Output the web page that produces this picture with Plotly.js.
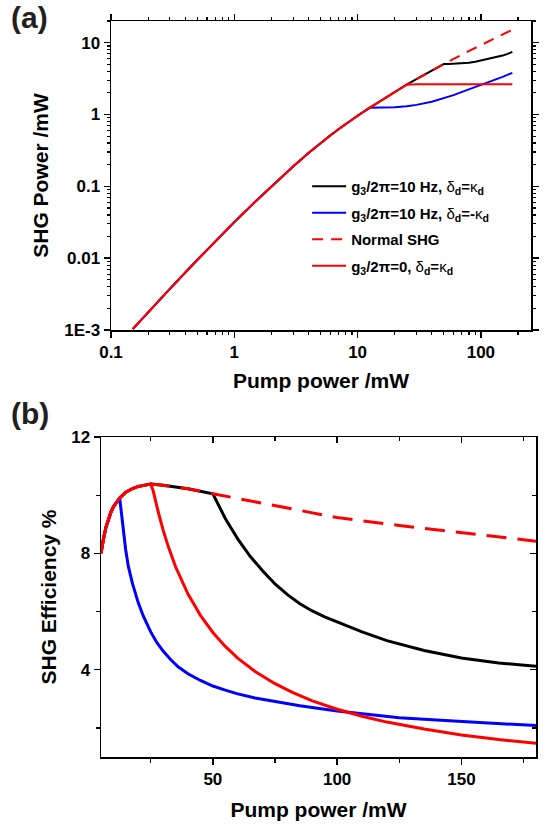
<!DOCTYPE html>
<html><head><meta charset="utf-8">
<script src="https://cdn.plot.ly/plotly-3.0.1.min.js"></script>
<style>html,body{margin:0;padding:0;background:#fff}</style>
</head><body><div id="chart" style="width:546px;height:827px"></div>
<script>
// ---------- Panel (a): SHG power (mW) vs pump power (mW), log-log ----------
const aCommonX = [0.15, 0.2, 0.3, 0.5, 0.7, 1, 1.5, 2, 3, 4, 5, 6, 7, 8, 9, 10, 12.5];
const aCommonY = [0.00103, 0.00177, 0.00374, 0.00942, 0.0171, 0.0317, 0.0626, 0.100, 0.189, 0.291, 0.40, 0.51, 0.623, 0.736, 0.848, 0.96, 1.2375];
const aMidX = [15, 20, 25];
const aMidY = [1.515, 2.06, 2.6];
const aUpperX = [30, 40, 50];
const aUpperY = [3.1, 4.09, 5.03];
const aBlackX = [55, 60, 70, 80, 90, 100, 110, 120, 135, 150, 165, 180];
const aBlackY = [5.06, 5.1, 5.18, 5.26, 5.42, 5.64, 5.83, 6.0, 6.29, 6.6, 6.98, 7.42];
const aBlueX = [14, 16, 20, 25, 30, 40, 50, 60, 75, 100, 125, 150, 180];
const aBlueY = [1.24, 1.245, 1.26, 1.3, 1.36, 1.5, 1.68, 1.86, 2.15, 2.56, 2.95, 3.34, 3.8];
const aRedX = [30, 50, 75, 100, 150, 180];
const aRedY = [2.64, 2.64, 2.64, 2.64, 2.64, 2.64];
const aNormalX = [75, 100, 125, 150, 180];
const aNormalY = [7.24, 9.25, 11.2, 13.05, 15.1];

const aXTickVals = [0.1, 1, 10, 100];
const aXTickText = ['0.1', '1', '10', '100'];
const aYTickVals = [0.001, 0.01, 0.1, 1, 10];
const aYTickText = ['1E-3', '0.01', '0.1', '1', '10'];

// ---------- Panel (b): SHG efficiency (%) vs pump power (mW) ----------
const bCommonX = [5, 5.5, 6, 7, 8, 9, 10, 12.5];
const bCommonY = [8.0, 8.28, 8.5, 8.9, 9.2, 9.42, 9.6, 9.9];
const bMidX = [15, 17.5, 20, 25];
const bMidY = [10.1, 10.22, 10.3, 10.38];
const bUpperX = [30, 40, 50];
const bUpperY = [10.34, 10.22, 10.05];
const bBlackX = [52, 55, 58, 60, 65, 70, 75, 80, 85, 90, 95, 100, 110, 120, 135, 150, 165, 180];
const bBlackY = [9.69, 9.2, 8.78, 8.5, 7.9, 7.4, 6.95, 6.58, 6.27, 6.02, 5.82, 5.64, 5.3, 5.0, 4.66, 4.4, 4.23, 4.12];
const bBlueX = [13, 13.5, 14, 14.9, 16, 17.7, 20, 22, 25, 27.5, 30, 33, 36, 40, 45, 50, 55, 60, 67, 75, 85, 100, 115, 125, 140, 150, 165, 180];
const bBlueY = [9.55, 9.15, 8.8, 8.14, 7.55, 6.95, 6.3, 5.85, 5.3, 4.93, 4.64, 4.35, 4.1, 3.86, 3.63, 3.44, 3.3, 3.17, 3.03, 2.9, 2.76, 2.58, 2.43, 2.35, 2.27, 2.22, 2.15, 2.08];
const bRedX = [26, 27, 28, 30, 32, 35, 38, 40, 45, 50, 55, 60, 67, 75, 82, 90, 100, 110, 120, 135, 150, 165, 180];
const bRedY = [10.15, 9.78, 9.43, 8.8, 8.25, 7.54, 6.95, 6.6, 5.87, 5.28, 4.8, 4.4, 3.94, 3.52, 3.22, 2.93, 2.64, 2.4, 2.2, 1.96, 1.76, 1.6, 1.47];
const bNormalX = [75, 100, 125, 150, 180];
const bNormalY = [9.63, 9.23, 8.96, 8.72, 8.42];

const bXTickVals = [50, 100, 150];
const bXMinorVals = [25, 75, 125, 175];
const bYTickVals = [4, 8, 12];
const bYMinorVals = [2, 6, 10];

const names = [
  "g<sub>3</sub>/2π=10 Hz, <span style='font-weight:normal'>δ</span><sub>d</sub>=<span style='font-weight:normal'>κ</span><sub>d</sub>",
  "g<sub>3</sub>/2π=10 Hz, <span style='font-weight:normal'>δ</span><sub>d</sub>=-<span style='font-weight:normal'>κ</span><sub>d</sub>",
  "Normal SHG",
  "g<sub>3</sub>/2π=0, <span style='font-weight:normal'>δ</span><sub>d</sub>=<span style='font-weight:normal'>κ</span><sub>d</sub>"
];

const cat = (...arrs) => [].concat(...arrs);
const BLACK = '#000000', BLUE = '#0000ff', RED = '#ff0000';

function mk(x, y, color, width, dash, xa, ya, name, grp, show) {
  return {x: x, y: y, type: 'scatter', mode: 'lines', xaxis: xa, yaxis: ya,
    name: name, legendgroup: grp, showlegend: show, hoverinfo: 'skip',
    line: {color: color, width: width, dash: dash}};
}

const traces = [
  mk(cat(aCommonX, aMidX, aUpperX, aBlackX), cat(aCommonY, aMidY, aUpperY, aBlackY), BLACK, 2, 'solid', 'x', 'y', names[0], 'g1', true),
  mk(cat(aCommonX, aBlueX), cat(aCommonY, aBlueY), BLUE, 2, 'solid', 'x', 'y', names[1], 'g2', true),
  mk(cat(aCommonX, aMidX, aUpperX, aNormalX), cat(aCommonY, aMidY, aUpperY, aNormalY), RED, 2, '11px,8px', 'x', 'y', names[2], 'g3', true),
  mk(cat(aCommonX, aMidX, aRedX), cat(aCommonY, aMidY, aRedY), RED, 2, 'solid', 'x', 'y', names[3], 'g4', true),

  mk(cat(bCommonX, bMidX, bUpperX, bBlackX), cat(bCommonY, bMidY, bUpperY, bBlackY), BLACK, 3, 'solid', 'x2', 'y2', names[0], 'g1', false),
  mk(cat(bCommonX, bBlueX), cat(bCommonY, bBlueY), BLUE, 3, 'solid', 'x2', 'y2', names[1], 'g2', false),
  mk(cat(bCommonX, bMidX, bUpperX, bNormalX), cat(bCommonY, bMidY, bUpperY, bNormalY), RED, 3, '20px,11px', 'x2', 'y2', names[2], 'g3', false),
  mk(cat(bCommonX, bMidX, bRedX), cat(bCommonY, bMidY, bRedY), RED, 3, 'solid', 'x2', 'y2', names[3], 'g4', false)
];

// minor tick positions for log axes
const minorX = [], minorY = [];
for (let d = -1; d <= 2; d++) for (let m = 2; m <= 9; m++) minorX.push(m * Math.pow(10, d));
for (let d = -3; d <= 1; d++) for (let m = 2; m <= 9; m++) minorY.push(m * Math.pow(10, d));

const tickFont = {size: 17, weight: 'bold', color: '#000'};
const axBase = {
  showline: true, linecolor: '#000', linewidth: 1.5,
  ticks: 'outside', ticklen: 6, tickwidth: 1.5, tickcolor: '#000',
  showgrid: false, zeroline: false, tickfont: tickFont
};
const titleFont = {size: 21, weight: 'bold', color: '#000'};
const minorOut = (vals, len) => ({tickmode: 'array', tickvals: vals, ticks: 'outside', ticklen: len, tickwidth: 1.2, tickcolor: '#000'});
const minorIn = (vals, len) => ({tickmode: 'array', tickvals: vals, ticks: 'inside', ticklen: len, tickwidth: 1.2, tickcolor: '#000'});

const bXRange = [5, 180], bYRange = [1, 12];

const layout = {
  width: 546, height: 827,
  margin: {l: 0, r: 0, t: 0, b: 0},
  paper_bgcolor: '#fff', plot_bgcolor: '#fff',
  font: {family: 'Liberation Sans, Arial, sans-serif', size: 16, color: '#000', weight: 'bold'},
  showlegend: true,
  legend: {x: 0.5625, y: 1 - 170/827, xanchor: 'left', yanchor: 'top', bgcolor: 'rgba(0,0,0,0)',
    font: {size: 15, weight: 'bold'}, traceorder: 'grouped', tracegroupgap: 4, itemwidth: 34},
  xaxis: Object.assign({}, axBase, {
    type: 'log', domain: [111/546, 531/546], anchor: 'y', range: [-1, Math.log10(255)], mirror: 'allticks',
    tickmode: 'array', tickvals: aXTickVals, ticktext: aXTickText,
    minor: minorOut(minorX, 3),
    title: {text: 'Pump power /mW', font: titleFont, standoff: 12}
  }),
  yaxis: Object.assign({}, axBase, {
    type: 'log', domain: [1 - 330/827, 1 - 21/827], anchor: 'x', range: [-3, Math.log10(20)], mirror: 'allticks',
    tickmode: 'array', tickvals: aYTickVals, ticktext: aYTickText,
    minor: minorOut(minorY, 3),
    title: {text: 'SHG Power /mW', font: titleFont, standoff: 10}
  }),
  xaxis2: Object.assign({}, axBase, {
    domain: [101/546, 536/546], anchor: 'y2', range: bXRange, mirror: true,
    tickmode: 'array', tickvals: bXTickVals,
    minor: minorOut(bXMinorVals, 4),
    title: {text: 'Pump power /mW', font: titleFont, standoff: 14}
  }),
  yaxis2: Object.assign({}, axBase, {
    domain: [1 - 757/827, 1 - 437/827], anchor: 'x2', range: bYRange, mirror: true,
    tickmode: 'array', tickvals: bYTickVals,
    minor: minorOut(bYMinorVals, 4),
    title: {text: 'SHG Efficiency %', font: titleFont, standoff: 9}
  }),
  // inward mirror ticks on the top and right edges of panel (b)
  xaxis3: {overlaying: 'x2', side: 'top', anchor: 'y2', range: bXRange, showline: false, showgrid: false, zeroline: false,
    ticks: 'inside', ticklen: 6, tickwidth: 1.5, tickcolor: '#000', showticklabels: false,
    tickmode: 'array', tickvals: bXTickVals, minor: minorIn(bXMinorVals, 4)},
  yaxis3: {overlaying: 'y2', side: 'right', anchor: 'x2', range: bYRange, showline: false, showgrid: false, zeroline: false,
    ticks: 'inside', ticklen: 6, tickwidth: 1.5, tickcolor: '#000', showticklabels: false,
    tickmode: 'array', tickvals: bYTickVals, minor: minorIn(bYMinorVals, 4)},
  annotations: [
    {text: '(a)', xref: 'paper', yref: 'paper', x: 0.016, y: 1 - 17/827, xanchor: 'left', yanchor: 'middle',
     showarrow: false, font: {size: 30, weight: 'bold', color: '#231f20'}},
    {text: '(b)', xref: 'paper', yref: 'paper', x: 0.016, y: 1 - 413/827, xanchor: 'left', yanchor: 'middle',
     showarrow: false, font: {size: 30, weight: 'bold', color: '#231f20'}}
  ]
};

// invisible helper trace so the mirror-tick axes are drawn
traces.push({x: bXRange, y: bYRange, xaxis: 'x3', yaxis: 'y3', type: 'scatter', mode: 'lines',
  line: {width: 0, color: 'rgba(0,0,0,0)'}, showlegend: false, hoverinfo: 'skip'});

Plotly.newPlot('chart', traces, layout, {displayModeBar: false, staticPlot: true});
</script>
</body></html>
